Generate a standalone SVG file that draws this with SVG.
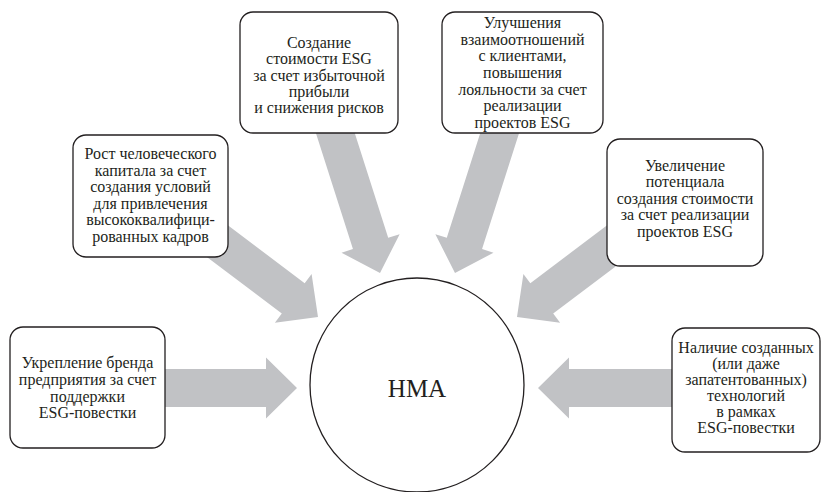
<svg xmlns="http://www.w3.org/2000/svg" width="822" height="492" viewBox="0 0 822 492">
<style>
.box{fill:#fff;stroke:#231f20;stroke-width:1.3}
.t{font-family:'Liberation Serif',serif;font-size:16px;fill:#231f20;text-anchor:middle}
.arr{fill:#c1c2c5}
</style>
<rect width="822" height="492" fill="#fff"/>
<g id="connectors">
<polygon class="arr" points="150,369 266,369 266,357.5 297,388 266,418.5 266,407 150,407"/>
<polygon class="arr" points="685,369 569,369 569,357.5 538,388 569,418.5 569,407 685,407"/>
<g transform="translate(318,317) rotate(37)"><polygon class="arr" points="-145,-19 -31,-19 -31,-30.5 0,0 -31,30.5 -31,19 -145,19"/></g>
<g transform="translate(517,317) rotate(143)"><polygon class="arr" points="-145,-19 -31,-19 -31,-30.5 0,0 -31,30.5 -31,19 -145,19"/></g>
<g transform="translate(380,273) rotate(72.3)"><polygon class="arr" points="-165,-18.5 -31,-18.5 -31,-30.5 0,0 -31,30.5 -31,18.5 -165,18.5"/></g>
<g transform="translate(455,273) rotate(107.7)"><polygon class="arr" points="-165,-18.5 -31,-18.5 -31,-30.5 0,0 -31,30.5 -31,18.5 -165,18.5"/></g>
</g>
<g id="n1" font-family="Liberation Serif, serif">
<rect class="box" x="10" y="327" width="155" height="121" rx="13"/>
<text class="t" x="87.5" y="368.3">Укрепление бренда</text>
<text class="t" x="87.5" y="385">предприятия за счет</text>
<text class="t" x="87.5" y="401.7">поддержки</text>
<text class="t" x="87.5" y="418.3">ESG-повестки</text>
</g>
<g id="n2" font-family="Liberation Serif, serif">
<rect class="box" x="73" y="135" width="155" height="122" rx="13"/>
<text class="t" x="150.5" y="159.3">Рост человеческого</text>
<text class="t" x="150.5" y="175.8">капитала за счет</text>
<text class="t" x="150.5" y="192.3">создания условий</text>
<text class="t" x="150.5" y="208.8">для привлечения</text>
<text class="t" x="150.5" y="225.3">высококвалифици-</text>
<text class="t" x="150.5" y="241.8">рованных кадров</text>
</g>
<g id="n3" font-family="Liberation Serif, serif">
<rect class="box" x="240" y="12" width="158" height="121" rx="13"/>
<text class="t" x="319" y="47.7">Создание</text>
<text class="t" x="319" y="64.1">стоимости ESG</text>
<text class="t" x="319" y="80.5">за счет избыточной</text>
<text class="t" x="319" y="96.9">прибыли</text>
<text class="t" x="319" y="113.3">и снижения рисков</text>
</g>
<g id="n4" font-family="Liberation Serif, serif">
<rect class="box" x="442" y="12" width="161" height="121" rx="13"/>
<text class="t" x="522.5" y="28">Улучшения</text>
<text class="t" x="522.5" y="44.7">взаимоотношений</text>
<text class="t" x="522.5" y="61.3">с клиентами,</text>
<text class="t" x="522.5" y="78">повышения</text>
<text class="t" x="522.5" y="94.7">лояльности за счет</text>
<text class="t" x="522.5" y="111.3">реализации</text>
<text class="t" x="522.5" y="128">проектов ESG</text>
</g>
<g id="n5" font-family="Liberation Serif, serif">
<rect class="box" x="607" y="139" width="156" height="127" rx="13"/>
<text class="t" x="685" y="170.5">Увеличение</text>
<text class="t" x="685" y="187">потенциала</text>
<text class="t" x="685" y="203.5">создания стоимости</text>
<text class="t" x="685" y="220">за счет реализации</text>
<text class="t" x="685" y="236.5">проектов ESG</text>
</g>
<g id="n6" font-family="Liberation Serif, serif">
<rect class="box" x="672" y="328" width="148" height="124" rx="13"/>
<text class="t" x="746" y="352.7">Наличие созданных</text>
<text class="t" x="746" y="368.8">(или даже</text>
<text class="t" x="746" y="384.9">запатентованных)</text>
<text class="t" x="746" y="401">технологий</text>
<text class="t" x="746" y="417.1">в рамках</text>
<text class="t" x="746" y="433.2">ESG-повестки</text>
</g>
<g id="center">
<circle cx="417" cy="385" r="107" fill="#fff" stroke="#231f20" stroke-width="1.3"/>
<text x="417" y="396.7" font-family="Liberation Serif, serif" font-size="25" fill="#231f20" text-anchor="middle">HMA</text>
</g>
</svg>
